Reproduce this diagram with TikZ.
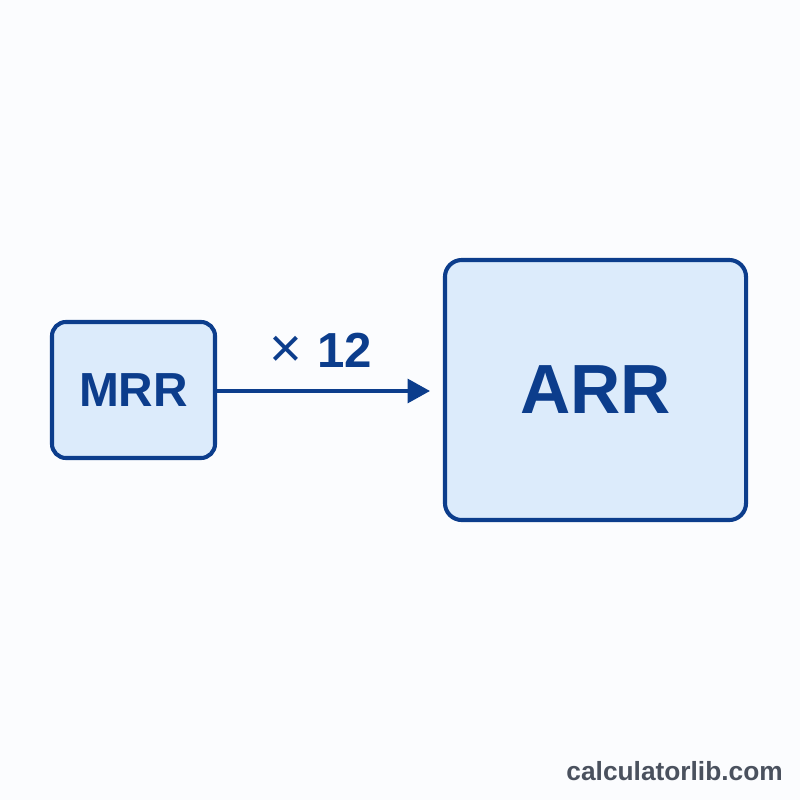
\documentclass[tikz,border=0pt]{standalone}
\usepackage{fontspec}
\setmainfont{Liberation Sans}
\usetikzlibrary{arrows.meta}
\definecolor{navy}{HTML}{0C3D8C}
\definecolor{boxfill}{HTML}{DCEBFB}
\definecolor{bgc}{HTML}{FBFCFE}
\definecolor{brand}{HTML}{4A515E}
\tikzset{
  box/.style={draw=navy, fill=boxfill, line width=2.9pt, inner sep=0pt, text=navy, font=\bfseries},
}
\begin{document}
\begin{tikzpicture}[x=0.025cm,y=-0.025cm]
\fill[bgc] (0,0) rectangle (800,800);
\useasboundingbox (0,0) rectangle (800,800);
\node[box, rounded corners=10pt, minimum width=4.075cm, minimum height=3.4cm,
  font=\fontsize{34}{36}\selectfont\bfseries] (mrr) at (133.5,390) {MRR};
\node[box, rounded corners=12pt, minimum width=7.525cm, minimum height=6.5cm,
  font=\fontsize{49.5}{54}\selectfont\bfseries] (arr) at (595.5,390) {ARR};
\coordinate (tip) at (430,391);
\draw[navy, line width=2.6pt, -{Triangle[length=16pt,width=17pt]}] (mrr.east |- tip) -- (tip);
\node[text=navy, font=\fontsize{35}{38}\selectfont\bfseries, anchor=base west, inner sep=0pt] (mult) at (269,367) {{\fontsize{40}{40}\selectfont\mdseries×}\hspace{11pt}12};
\node[text=brand, font=\fontsize{18.7}{20}\selectfont\bfseries, anchor=base east, inner sep=0pt] (brandlbl) at (783,780) {calculatorlib.com};
\end{tikzpicture}
\end{document}
